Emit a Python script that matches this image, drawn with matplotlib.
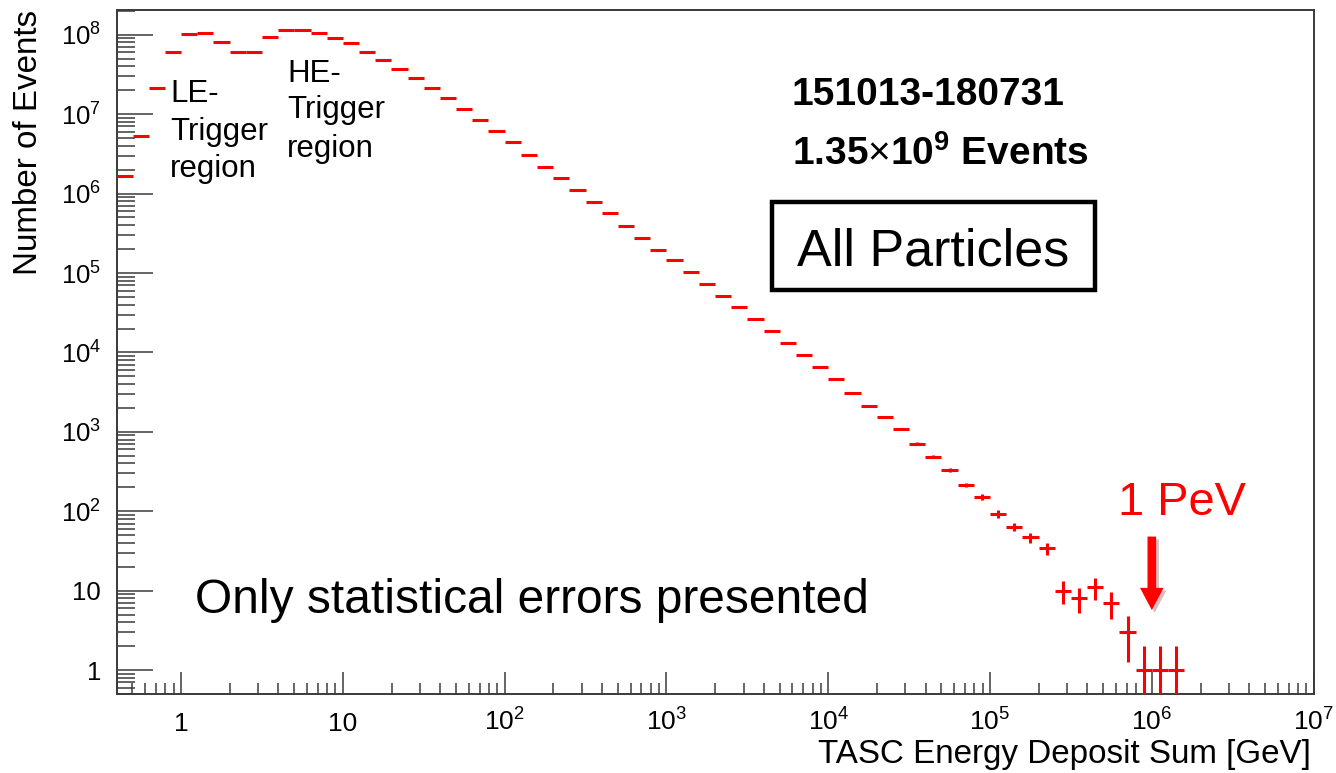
import numpy as np
import matplotlib
matplotlib.use("Agg")
import matplotlib.pyplot as plt
from matplotlib.patches import Rectangle
import matplotlib.patheffects as pe

plt.rcParams['font.family'] = ['Liberation Sans', 'DejaVu Sans']
plt.rcParams['mathtext.fontset'] = 'custom'
plt.rcParams['mathtext.rm'] = 'Liberation Sans'
plt.rcParams['mathtext.it'] = 'Liberation Sans:italic'
plt.rcParams['mathtext.bf'] = 'Liberation Sans:bold'

# ---------------- data ----------------
# histogram bins: 0.1 decade wide, from 10^-0.4 to 10^6.2 GeV
log_edges = np.round(np.arange(-4, 63) / 10.0, 1)
counts = [
    1.67e6, 5.3e6, 2.13e7, 6.1e7,                       # -0.4 .. -0.1
    1.02e8, 1.06e8, 8.0e7, 6.0e7, 6.1e7, 9.4e7, 1.15e8, 1.15e8, 1.05e8, 9.0e7,   # 0.0 .. 0.9
    7.8e7, 6.05e7, 4.84e7, 3.7e7, 2.82e7, 2.15e7, 1.58e7, 1.15e7, 8.4e6, 6.2e6,  # 1.0 .. 1.9
    4.4e6, 3.08e6, 2.19e6, 1.59e6, 1.12e6, 7.9e5, 5.7e5, 3.96e5, 2.79e5, 1.97e5,  # 2.0 .. 2.9
    1.45e5, 1.02e5, 7.2e4, 5.1e4, 3.74e4, 2.63e4, 1.85e4, 1.31e4, 9200, 6500,     # 3.0 .. 3.9
    4600, 3120, 2120, 1540, 1100, 710, 487, 328, 215, 152,                        # 4.0 .. 4.9
    93, 64, 47, 34, 10, 8, 11, 7, 3, 1,                                           # 5.0 .. 5.9
    1, 1,                                                                         # 6.0 .. 6.1
]
x_major = [1, 10, 1e2, 1e3, 1e4, 1e5, 1e6, 1e7]
x_labels = ['1', '10', '$10^{2}$', '$10^{3}$', '$10^{4}$', '$10^{5}$', '$10^{6}$', '$10^{7}$']
y_major = [1, 10, 1e2, 1e3, 1e4, 1e5, 1e6, 1e7, 1e8]
y_labels = ['1', '10', '$10^{2}$', '$10^{3}$', '$10^{4}$', '$10^{5}$', '$10^{6}$', '$10^{7}$', '$10^{8}$']

counts = np.array(counts, dtype=float)
assert len(counts) == len(log_edges) - 1
lo = 10 ** log_edges[:-1]
hi = 10 ** log_edges[1:]
centers = 10 ** ((log_edges[:-1] + log_edges[1:]) / 2)
xerr = [centers - lo, hi - centers]
yerr = np.sqrt(counts)

# ---------------- figure ----------------
W, H = 1336, 773
fig = plt.figure(figsize=(W / 100, H / 100), dpi=100)
fig.patch.set_facecolor('white')

def fx(px):
    return px / W

def fy(py):
    return 1 - py / H

ax = fig.add_axes([fx(116.7), fy(694), fx(1313.6) - fx(116.7), fy(10) - fy(694)])
ax.set_xscale('log')
ax.set_yscale('log')

ax.errorbar(centers, counts, xerr=xerr, yerr=yerr, fmt='none',
            ecolor='#ff0000', elinewidth=2.2, capsize=0, zorder=3)

ax.set_xlim(0.4, 1e7)
ax.set_ylim(0.5, 2.05e8)

x_minor = [k * 10.0 ** d for d in range(-1, 7) for k in range(2, 10) if 0.4 <= k * 10.0 ** d <= 1e7]
y_minor = [k * 10.0 ** d for d in range(-1, 9) for k in range(2, 10) if 0.5 <= k * 10.0 ** d <= 2.05e8]

ax.set_xticks(x_major, x_labels)
ax.set_xticks(x_minor, minor=True)
ax.set_xticklabels([], minor=True)
ax.set_yticks(y_major, y_labels)
ax.set_yticks(y_minor, minor=True)
ax.set_yticklabels([], minor=True)

frame_col = '#3a3a3a'
for s in ax.spines.values():
    s.set_color(frame_col)
    s.set_linewidth(1.4)

ax.tick_params(axis='x', which='major', direction='in', length=16, width=1.1,
               colors=frame_col, labelcolor='black', labelsize=19, pad=26.6, top=False)
ax.tick_params(axis='x', which='minor', direction='in', length=8, width=1.1,
               colors=frame_col, top=False)
ax.tick_params(axis='y', which='major', direction='in', length=26, width=1.1,
               colors=frame_col, labelcolor='black', labelsize=18.5, pad=11.3, right=False)
ax.tick_params(axis='y', which='minor', direction='in', length=13, width=1.1,
               colors=frame_col, right=False)
for t in ax.xaxis.get_major_ticks():
    t.label1.set_verticalalignment('baseline')

# axis titles
fig.text(fx(1311), fy(763), 'TASC Energy Deposit Sum [GeV]', ha='right', va='baseline',
         fontsize=23.9)
fig.text(fx(37), fy(10), 'Number of Events', ha='right', va='baseline', rotation=90,
         rotation_mode='anchor', fontsize=23.9)

# trigger region annotations
for txt, yb in zip(['LE-', 'Trigger', 'region'], [101.7, 140, 176.7]):
    fig.text(fx(170), fy(yb), txt, ha='left', va='baseline', fontsize=22.5)
for txt, yb in zip(['HE-', 'Trigger', 'region'], [81.7, 118.3, 156.7]):
    fig.text(fx(287.3), fy(yb), txt, ha='left', va='baseline', fontsize=22.5)

# info text
fig.text(fx(792), fy(105), '151013-180731', ha='left', va='baseline', fontsize=28,
         fontweight='bold')
fig.text(fx(792), fy(165), r'1.35$\times$10$^{\mathbf{9}}$ Events', ha='left', va='baseline',
         fontsize=28, fontweight='bold')

# All Particles box
fig.add_artist(Rectangle((fx(771.7), fy(290)), fx(1095) - fx(771.7), fy(201.7) - fy(290),
                         transform=fig.transFigure, fill=False, edgecolor='black', linewidth=3.2))
fig.text(fx(933), fy(265), 'All Particles', ha='center', va='baseline', fontsize=37.5)

fig.text(fx(195), fy(613), 'Only statistical errors presented', ha='left', va='baseline',
         fontsize=34.5)

# 1 PeV annotation
fig.text(fx(1118), fy(515), '1 PeV', ha='left', va='baseline', fontsize=33.8, color='#ff0000')
ann = ax.annotate('', xy=(1e6, 5.7), xytext=(1e6, 48),
                  arrowprops=dict(facecolor='#ff0000', edgecolor='none', width=6.2,
                                  headwidth=17, headlength=16, shrink=0))
ann.arrow_patch.set_path_effects([pe.SimplePatchShadow(offset=(2, -2), alpha=0.25), pe.Normal()])

fig.savefig('out.png', dpi=100, facecolor='white')
